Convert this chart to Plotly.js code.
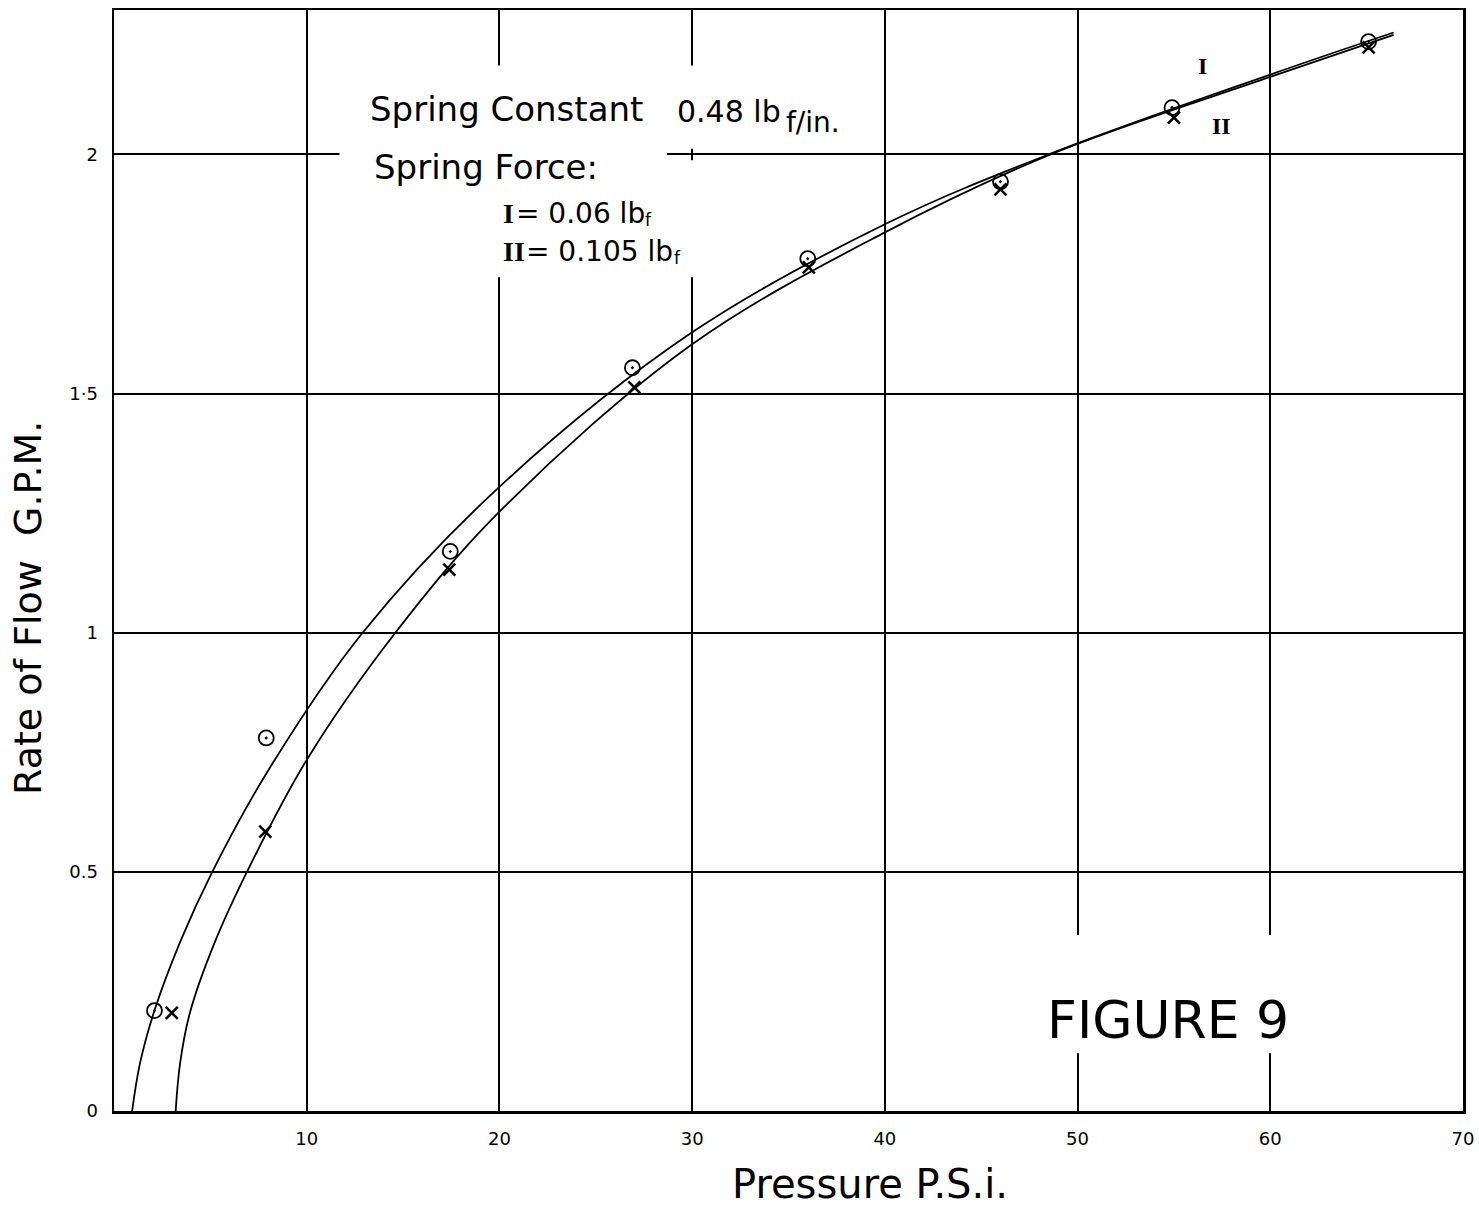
<!DOCTYPE html>
<html>
<head>
<meta charset="utf-8">
<script src="https://cdn.plot.ly/plotly-3.0.1.min.js"></script>
<style>html,body{margin:0;padding:0;background:#fff;}#chart{width:1479px;height:1210px;}</style>
</head>
<body>
<div id="chart"></div>
<script>
// Measured points, spring force I (circle with dot)
const pressureI = [2.1, 7.9, 17.45, 26.9, 36.0, 46.0, 54.9, 65.1];
const flowI     = [0.21, 0.78, 1.17, 1.554, 1.782, 1.943, 2.098, 2.236];
// Measured points, spring force II (cross)
const pressureII = [3.0, 7.85, 17.4, 27.0, 36.05, 46.0, 55.0, 65.1];
const flowII     = [0.205, 0.584, 1.132, 1.513, 1.764, 1.927, 2.077, 2.224];
// Hand-drawn fitted curves
const curveIx  = [0.94, 1.35, 2.1, 3.45, 5.1, 8.0, 12.9, 20, 30, 40, 48.5, 60, 66.4];
const curveIy  = [0, 0.1, 0.21, 0.355, 0.5, 0.712, 1.0, 1.305, 1.628, 1.854, 2.0, 2.167, 2.255];
const curveIIx = [3.2, 3.43, 3.95, 5.2, 6.9, 10, 14.6, 20, 30, 40, 48.6, 60, 66.4];
const curveIIy = [0, 0.1, 0.207, 0.35, 0.5, 0.734, 1.0, 1.253, 1.603, 1.837, 2.0, 2.162, 2.25];
// Tick labels
const xTickVals = [10, 20, 30, 40, 50, 60, 70];
const xTickText = ['10', '20', '30', '40', '50', '60', '70'];
const yTickVals = [0, 0.5, 1, 1.5, 2];
const yTickText = ['0', '0.5', '1', '1·5', '2'];

const FONT = 'DejaVu Sans, Liberation Sans, sans-serif';
const SERIF = 'Liberation Serif, DejaVu Serif, serif';

const traces = [
  {x: curveIx, y: curveIy, mode: 'lines', line: {color: '#000', width: 1.8, shape: 'spline', smoothing: 1}, hoverinfo: 'skip', name: 'I'},
  {x: curveIIx, y: curveIIy, mode: 'lines', line: {color: '#000', width: 1.8, shape: 'spline', smoothing: 1}, hoverinfo: 'skip', name: 'II'},
  {x: pressureI, y: flowI, mode: 'markers', name: 'I = 0.06 lbf',
   marker: {symbol: 'circle-open-dot', size: 15, color: '#000', line: {color: '#000', width: 1.8}}},
  {x: pressureII, y: flowII, mode: 'markers', name: 'II = 0.105 lbf',
   marker: {symbol: 'x-thin-open', size: 12, color: '#000', line: {color: '#000', width: 2.6}}}
];

const white = {type: 'rect', layer: 'between', xref: 'x', yref: 'y', fillcolor: '#fff', line: {width: 0}};

function note(x, y, text, size, family, extra) {
  return Object.assign({xref: 'x', yref: 'y', x: x, y: y, text: text, showarrow: false,
    xanchor: 'left', yanchor: 'middle', font: {size: size, family: family || FONT}}, extra || {});
}

const layout = {
  width: 1479, height: 1210,
  margin: {l: 114, r: 16, t: 10, b: 99, pad: 0},
  paper_bgcolor: '#fff', plot_bgcolor: '#fff',
  showlegend: false,
  font: {family: FONT, color: '#000'},
  xaxis: {
    range: [0, 70], tickvals: xTickVals, ticktext: xTickText,
    showgrid: true, gridcolor: '#000', gridwidth: 2,
    showline: true, linecolor: '#000', linewidth: 2.5, mirror: true,
    zeroline: false, ticks: '', tickfont: {size: 18, family: FONT},
    ticklabelstandoff: 10, fixedrange: true
  },
  yaxis: {
    range: [0, 2.302], tickvals: yTickVals, ticktext: yTickText,
    showgrid: true, gridcolor: '#000', gridwidth: 2,
    showline: true, linecolor: '#000', linewidth: 2.5, mirror: true,
    zeroline: false, ticks: '', tickfont: {size: 18, family: FONT},
    ticklabelstandoff: 10, fixedrange: true
  },
  shapes: [
    Object.assign({x0: 11.7, x1: 30.5, y0: 2.186, y1: 2.012}, white),
    Object.assign({x0: 11.7, x1: 30.5, y0: 1.988, y1: 1.743}, white),
    Object.assign({x0: 11.7, x1: 28.7, y0: 2.02, y1: 1.98}, white),
    Object.assign({x0: 48.1, x1: 61.6, y0: 0.368, y1: 0.121}, white)
  ],
  annotations: [
    {xref: 'paper', yref: 'paper', x: -0.0638, y: 0.4569, text: 'Rate of Flow  G.P.M.', textangle: -90,
     showarrow: false, font: {size: 38, family: FONT}, xanchor: 'center', yanchor: 'middle'},
    {xref: 'paper', yref: 'paper', x: 0.5604, y: -0.0663, text: 'Pressure P.S.i.',
     showarrow: false, font: {size: 40, family: FONT}, xanchor: 'center', yanchor: 'middle'},
    note(13.2, 2.094, 'Spring Constant', 34),
    note(29.1, 2.09, '0.48 lb', 30),
    note(34.77, 2.066, 'f/in.', 28),
    note(13.4, 1.973, 'Spring Force:', 34),
    note(20.1, 1.876, 'I', 28, SERIF, {font: {size: 28, family: SERIF, weight: 'bold'}}),
    note(20.75, 1.876, '= 0.06 lb', 28),
    note(27.45, 1.862, 'f', 17),
    note(20.1, 1.797, 'II', 28, SERIF, {font: {size: 28, family: SERIF, weight: 'bold'}}),
    note(21.3, 1.797, '= 0.105 lb', 28),
    note(28.95, 1.783, 'f', 17),
    note(56.5, 2.184, 'I', 24, SERIF, {xanchor: 'center', font: {size: 24, family: SERIF, weight: 'bold'}}),
    note(57.45, 2.059, 'II', 24, SERIF, {xanchor: 'center', font: {size: 24, family: SERIF, weight: 'bold'}}),
    note(54.7, 0.19, 'FIGURE 9', 52, FONT, {xanchor: 'center'})
  ]
};

Plotly.newPlot('chart', traces, layout, {staticPlot: true, displayModeBar: false});
</script>
</body>
</html>
